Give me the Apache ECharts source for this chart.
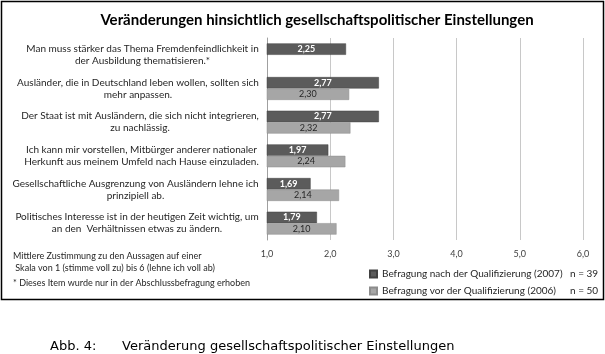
<!DOCTYPE html>
<html>
<head>
<meta charset="utf-8">
<script src="https://cdn.jsdelivr.net/npm/echarts@6/dist/echarts.min.js"></script>
<style>
  html, body { margin: 0; padding: 0; background: #fff; }
  #chart { width: 605px; height: 354px; }
</style>
</head>
<body>
<div id="chart"></div>
<script>
// Items (two lines each, as in the original)
var items = [
  ['Man muss stärker das Thema Fremdenfeindlichkeit in', 'der Ausbildung thematisieren.*'],
  ['Ausländer, die in Deutschland leben wollen, sollten sich', 'mehr anpassen.'],
  ['Der Staat ist mit Ausländern, die sich nicht integrieren,', 'zu nachlässig.'],
  ['Ich kann mir vorstellen, Mitbürger anderer nationaler', 'Herkunft aus meinem Umfeld nach Hause einzuladen.'],
  ['Gesellschaftliche Ausgrenzung von Ausländern lehne ich', 'prinzipiell ab.'],
  ['Politisches Interesse ist in der heutigen Zeit wichtig, um', 'an den  Verhältnissen etwas zu ändern.']
]
var after2007 = [2.25, 2.77, 2.77, 1.97, 1.69, 1.79]
var before2006 = [null, 2.30, 2.32, 2.24, 2.14, 2.10]
var seriesNames = ['Befragung nach der Qualifizierung (2007)', 'Befragung vor der Qualifizierung (2006)']
var sampleSizes = ['n = 39', 'n = 50']
var notes = [
  'Mittlere Zustimmung zu den Aussagen auf einer',
  ' Skala von 1 (stimme voll zu) bis 6 (lehne ich voll ab)',
  '* Dieses Item wurde nur in der Abschlussbefragung erhoben'
]

var FONT = 'Lato'
var labelSize = 10

// measure widest line so both lines can be centred like Excel does
var ctx = document.createElement('canvas').getContext('2d')
ctx.font = labelSize + 'px ' + FONT
var rich = {}
items.forEach(function (lines, i) {
  var w = Math.max.apply(null, lines.map(function (l) { return ctx.measureText(l).width }))
  rich['c' + i] = { width: Math.ceil(w), align: 'center', fontSize: labelSize, fontFamily: FONT, color: '#262626', lineHeight: 12 }
})

function comma(v) {
  return v.toFixed(2).replace('.', ',')
}

var chart = echarts.init(document.getElementById('chart'))
chart.setOption({
  animation: false,
  textStyle: { fontFamily: FONT },
  title: {
    text: 'Veränderungen hinsichtlich gesellschaftspolitischer Einstellungen',
    left: 312,
    textAlign: 'center',
    top: 8,
    textStyle: { fontSize: 15, fontWeight: 'bold', color: '#000', fontFamily: FONT }
  },
  grid: { left: 267, right: 22, top: 38, bottom: 114 },
  legend: {
    orient: 'vertical',
    left: 364,
    top: 264,
    itemWidth: 7,
    itemHeight: 7,
    itemGap: 7,
    icon: 'rect',
    data: seriesNames,
    formatter: function (name) {
      var i = seriesNames.indexOf(name)
      return '{a|' + name + '}{b|' + sampleSizes[i] + '}'
    },
    textStyle: {
      rich: {
        a: { width: 188, fontSize: 10, fontFamily: FONT, color: '#262626' },
        b: { fontSize: 10, fontFamily: FONT, color: '#262626' }
      }
    }
  },
  xAxis: {
    type: 'value',
    min: 1,
    max: 6,
    interval: 1,
    axisLine: { show: false },
    axisTick: { show: false },
    splitLine: { lineStyle: { color: '#c8c8c8', width: 1 } },
    axisLabel: {
      margin: 10,
      fontSize: 9,
      color: '#404040',
      formatter: function (v) { return v.toFixed(1).replace('.', ',') }
    }
  },
  yAxis: {
    type: 'category',
    inverse: true,
    data: items.map(function (l, i) { return i }),
    axisTick: { show: false },
    axisLine: { show: true, lineStyle: { color: '#a0a0a0' } },
    axisLabel: {
      margin: 8,
      align: 'right',
      formatter: function (v, i) {
        return items[i].map(function (l) { return '{c' + i + '|' + l + '}' }).join('\n')
      },
      rich: rich
    }
  },
  series: [
    {
      name: seriesNames[0],
      type: 'bar',
      data: after2007,
      barGap: 0,
      barCategoryGap: '32%',
      itemStyle: { color: '#5b5b5b', borderColor: '#404040', borderWidth: 0.5 },
      label: {
        show: true,
        position: 'inside',
        color: '#fff',
        fontSize: 9,
        fontWeight: 'bold',
        formatter: function (p) { return comma(p.value) }
      }
    },
    {
      name: seriesNames[1],
      type: 'bar',
      data: before2006,
      itemStyle: { color: '#a6a6a6', borderColor: '#8c8c8c', borderWidth: 0.5 },
      label: {
        show: true,
        position: 'inside',
        color: '#262626',
        fontSize: 9,
        formatter: function (p) { return comma(p.value) }
      }
    }
  ],
  graphic: [
    {
      type: 'rect',
      shape: { x: 1.5, y: 1.5, width: 602, height: 298 },
      style: { fill: 'none', stroke: '#000', lineWidth: 1.5 },
      silent: true
    },
    {
      type: 'text',
      left: 13,
      top: 252,
      style: { text: notes[0], font: '9px ' + FONT, fill: '#262626' }
    },
    {
      type: 'text',
      left: 13,
      top: 264,
      style: { text: notes[1], font: '9px ' + FONT, fill: '#262626' }
    },
    {
      type: 'text',
      left: 13,
      top: 279,
      style: { text: notes[2], font: '9px ' + FONT, fill: '#262626' }
    },
    {
      type: 'text',
      left: 50,
      top: 340,
      style: { text: 'Abb. 4:', font: '13px "DejaVu Sans"', fill: '#000' }
    },
    {
      type: 'text',
      left: 122,
      top: 340,
      style: { text: 'Veränderung gesellschaftspolitischer Einstellungen', font: '13px "DejaVu Sans"', fill: '#000' }
    }
  ]
})
</script>
</body>
</html>
